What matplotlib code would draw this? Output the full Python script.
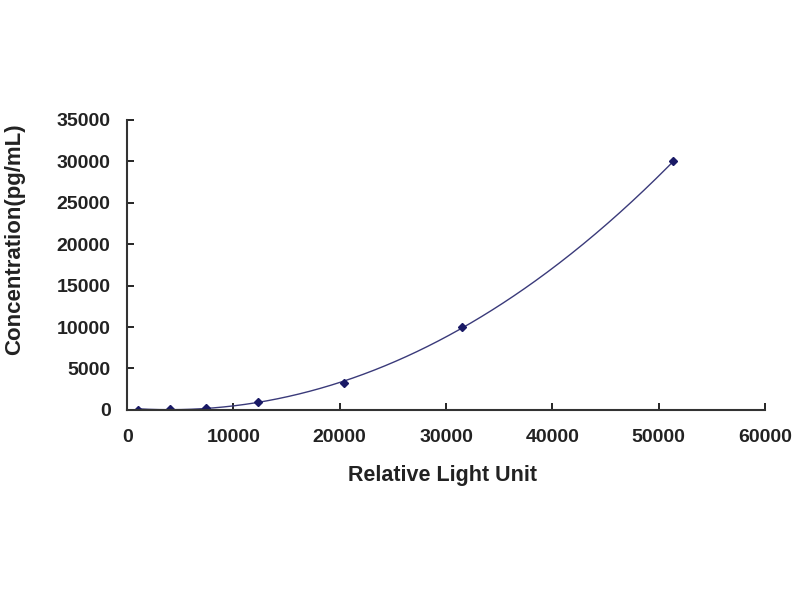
import numpy as np
import matplotlib
matplotlib.use("Agg")
import matplotlib.pyplot as plt

rlu = [1000, 4000, 7400, 12300, 20400, 31500, 51400]
conc = [0, 100, 250, 1000, 3200, 10000, 30000]
x_ticks = [0, 10000, 20000, 30000, 40000, 50000, 60000]
y_ticks = [0, 5000, 10000, 15000, 20000, 25000, 30000, 35000]

plt.rcParams['font.family'] = ['Liberation Sans', 'DejaVu Sans']
fig = plt.figure(figsize=(8, 6), dpi=100)
ax = fig.add_axes([0.159, 0.317, 0.797, 0.483])

coef = np.polyfit(rlu, conc, 3)
xs = np.linspace(min(rlu), max(rlu), 400)
ys = np.polyval(coef, xs)
mask = ys >= 0
ax.plot(xs[mask], ys[mask], color='#3a3a7a', lw=1.0)
ax.plot(rlu, conc, 'D', color='#1a1a66', ms=4.5)

ax.set_xlim(0, 60000)
ax.set_ylim(0, 35000)
ax.set_xticks(x_ticks)
ax.set_yticks(y_ticks)
ax.tick_params(direction='in', length=5, width=1.2, labelsize=14)
ax.tick_params(axis='x', pad=14)
ax.tick_params(axis='y', pad=12)
for lab in ax.get_xticklabels() + ax.get_yticklabels():
    lab.set_fontweight('bold')
    lab.set_color('#222222')
for s in ['top', 'right']:
    ax.spines[s].set_visible(False)
for s in ['left', 'bottom']:
    ax.spines[s].set_linewidth(1.5)
    ax.spines[s].set_color('#333333')
ax.set_xlabel('Relative Light Unit', fontsize=15.5, fontweight='bold', color='#222222')
ax.set_ylabel('Concentration(pg/mL)', fontsize=16, fontweight='bold', color='#222222')
ax.xaxis.set_label_coords(0.495, -0.19)
ax.yaxis.set_label_coords(-0.16, 0.59)
fig.savefig('out.png')
